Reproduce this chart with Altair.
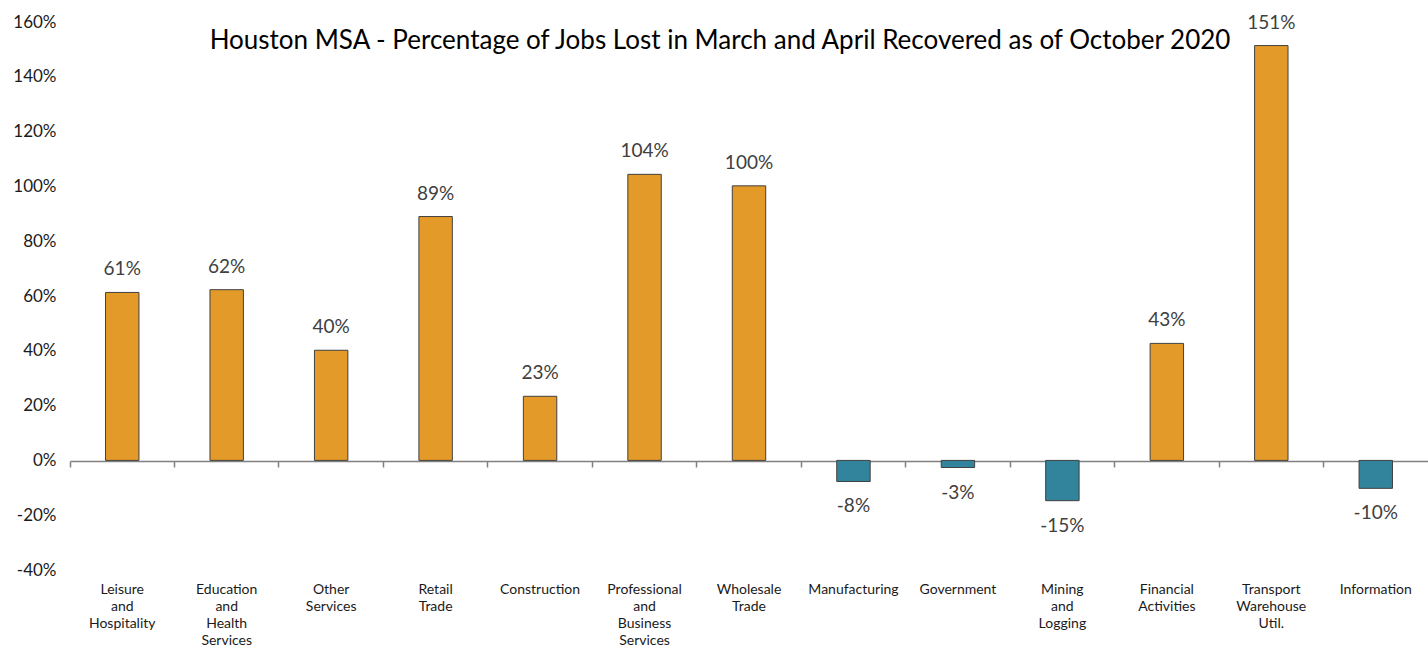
import altair as alt
import pandas as pd

categories = [
    "Leisure\nand\nHospitality",
    "Education\nand\nHealth\nServices",
    "Other\nServices",
    "Retail\nTrade",
    "Construction",
    "Professional\nand\nBusiness\nServices",
    "Wholesale\nTrade",
    "Manufacturing",
    "Government",
    "Mining\nand\nLogging",
    "Financial\nActivities",
    "Transport\nWarehouse\nUtil.",
    "Information",
]
values = [61.3, 62.3, 40.2, 89.0, 23.4, 104.4, 100.2, -7.7, -2.6, -14.7, 42.7, 151.4, -10.2]
labels = ["61%", "62%", "40%", "89%", "23%", "104%", "100%", "-8%", "-3%", "-15%", "43%", "151%", "-10%"]
y_ticks = [-40, -20, 0, 20, 40, 60, 80, 100, 120, 140, 160]
title_text = "Houston MSA - Percentage of Jobs Lost in March and April Recovered as of October 2020"

ORANGE = "#E39A28"
TEAL = "#31849B"
FONT = "Lato"

df = pd.DataFrame({"cat": categories, "value": values, "label": labels})

xscale = alt.Scale(paddingInner=0, paddingOuter=0)
yscale = alt.Scale(domain=[-40, 160], nice=False, zero=False)

y_axis = alt.Axis(
    values=y_ticks, labelExpr="datum.value + '%'", grid=False,
    domain=False, ticks=False, labelFont=FONT, labelFontSize=17,
    labelColor="#1a1a1a", labelPadding=14,
)
y_enc = alt.Y("value:Q", scale=yscale, title=None, axis=y_axis)

base = alt.Chart(df)

bars = base.mark_bar(
    width=alt.RelativeBandSize(0.32), stroke="#404040", strokeWidth=1
).encode(
    x=alt.X(
        "cat:N", sort=categories, scale=xscale, title=None,
        axis=alt.Axis(
            labelExpr="split(datum.label, '\\n')", labelAngle=0,
            labelFont=FONT, labelFontSize=14, labelColor="#1a1a1a",
            labelLineHeight=17, labelPadding=12, labelBaseline="top",
            domain=False, ticks=False, labelLimit=200,
        ),
    ),
    y=y_enc,
    color=alt.condition("datum.value >= 0", alt.value(ORANGE), alt.value(TEAL)),
)

pos_text = base.transform_filter("datum.value >= 0").mark_text(
    font=FONT, fontSize=19, color="#404040", baseline="middle", dy=-23
).encode(
    x=alt.X("cat:N", sort=categories, scale=xscale, axis=None),
    y=y_enc,
    text="label:N",
)
neg_text = base.transform_filter("datum.value < 0").mark_text(
    font=FONT, fontSize=19, color="#404040", baseline="middle", dy=25
).encode(
    x=alt.X("cat:N", sort=categories, scale=xscale, axis=None),
    y=y_enc,
    text="label:N",
)

zero_axis = base.mark_rule(opacity=0).encode(
    x=alt.X(
        "cat:N", sort=categories, scale=xscale, title=None,
        axis=alt.Axis(
            orient="bottom", offset=-109, labels=False, domain=True,
            domainColor="#808080", domainWidth=1.5, ticks=True,
            tickColor="#808080", tickWidth=1.5, tickSize=6, bandPosition=0,
        ),
    ),
    y=y_enc,
)

title = alt.Chart(pd.DataFrame({"t": [title_text]})).mark_text(
    font=FONT, fontSize=26, color="#000000", align="center", baseline="middle"
).encode(text="t:N", x=alt.value(650), y=alt.value(19))

chart = alt.layer(bars, pos_text, neg_text, zero_axis, title).resolve_axis(
    x="independent"
).properties(
    width=1358, height=548,
    background="white",
    autosize=alt.AutoSizeParams(type="none"),
    padding={"left": 70, "top": 22, "right": 0, "bottom": 75},
).configure_view(stroke=None)

chart.save("out.html", embed_options={"renderer": "svg", "actions": False})
